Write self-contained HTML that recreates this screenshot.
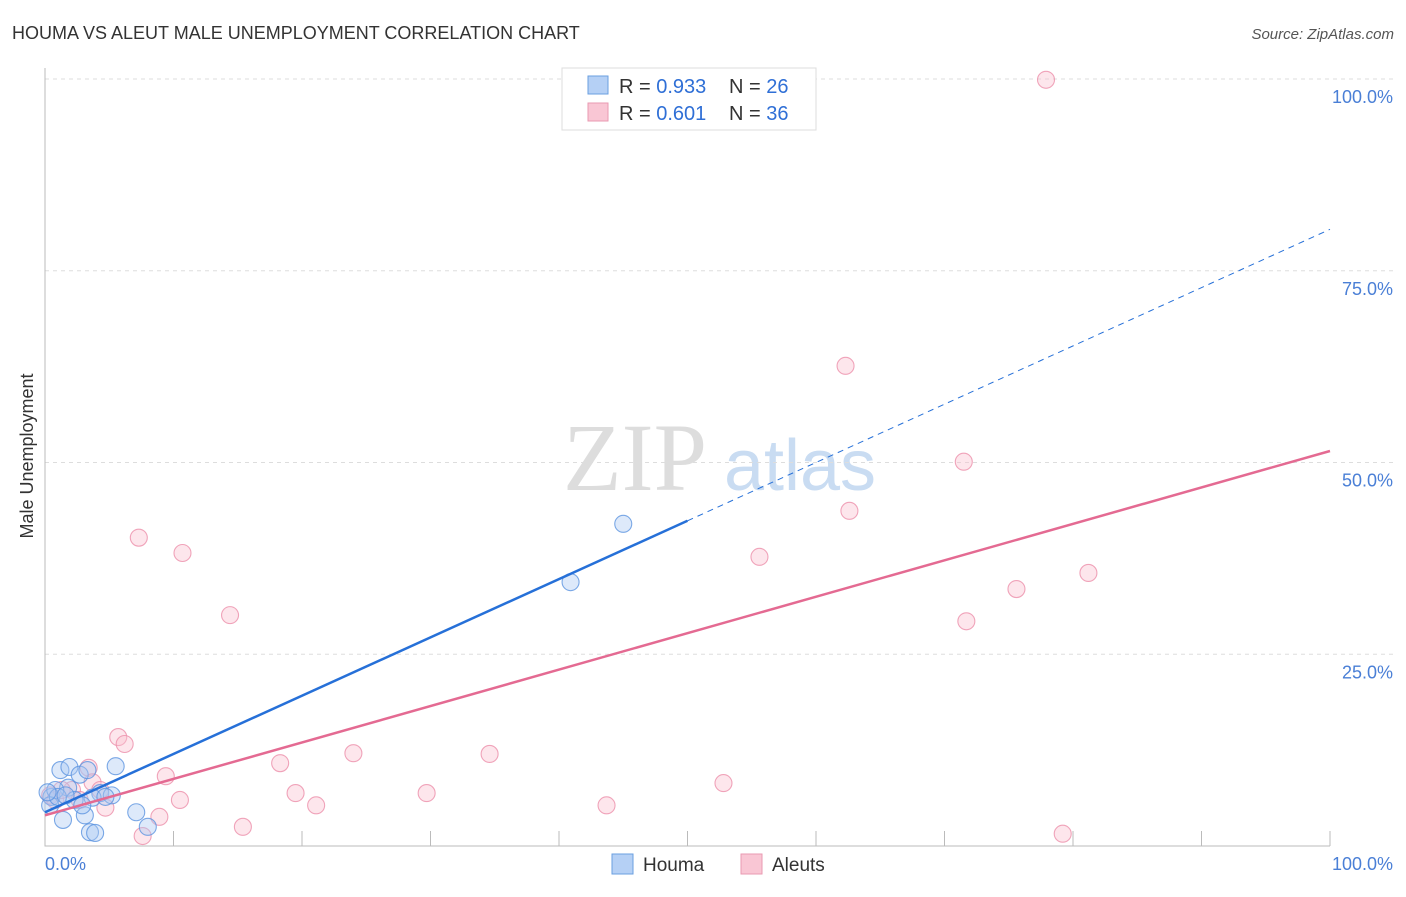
<!DOCTYPE html>
<html><head><meta charset="utf-8"><style>
body{margin:0;background:#fff;font-family:"Liberation Sans",sans-serif}
</style></head><body>
<svg width="1406" height="892" xmlns="http://www.w3.org/2000/svg" font-family="Liberation Sans, sans-serif">
<text x="12" y="39" font-size="18" fill="#333">HOUMA VS ALEUT MALE UNEMPLOYMENT CORRELATION CHART</text>
<text x="1394" y="39" font-size="15" fill="#555" font-style="italic" text-anchor="end">Source: ZipAtlas.com</text>
<text x="0" y="0" transform="translate(33,456) rotate(-90)" font-size="18" fill="#333" text-anchor="middle">Male Unemployment</text>
<g><text x="635" y="490" font-size="96" font-family="Liberation Serif, serif" fill="#ddd" text-anchor="middle">ZIP</text><text x="800" y="490" font-size="72" fill="#c9dcf2" text-anchor="middle">atlas</text></g>
<g id="grid"></g><g id="axes"></g><g id="marks"></g>
<g>
<rect x="562" y="68" width="254" height="62" fill="#fff" stroke="#ddd"/>
<rect x="588" y="76" width="20" height="18" fill="#b5d0f5" stroke="#6a9fe0"/>
<rect x="588" y="103" width="20" height="18" fill="#f9c6d4" stroke="#e99ab2"/>
<text x="619" y="93" font-size="20" fill="#333">R = <tspan fill="#2f6fd6">0.933</tspan></text>
<text x="729" y="93" font-size="20" fill="#333">N = <tspan fill="#2f6fd6">26</tspan></text>
<text x="619" y="120" font-size="20" fill="#333">R = <tspan fill="#2f6fd6">0.601</tspan></text>
<text x="729" y="120" font-size="20" fill="#333">N = <tspan fill="#2f6fd6">36</tspan></text>
</g>
<g>
<rect x="612" y="854" width="21" height="20" fill="#b5d0f5" stroke="#6a9fe0"/>
<text x="643" y="871" font-size="19" fill="#333">Houma</text>
<rect x="741" y="854" width="21" height="20" fill="#f9c6d4" stroke="#e99ab2"/>
<text x="772" y="871" font-size="19" fill="#333">Aleuts</text>
</g>
<text x="45" y="870" font-size="18" fill="#4a7fd6">0.0%</text>
<text x="1393" y="870" font-size="18" fill="#4a7fd6" text-anchor="end">100.0%</text>
</svg>
<script>
const houmaX=[0.5,1.2,1.9,2.7,3.3,1.8,0.8,0.4,1.4,3.1,3.5,3.9,4.3,5.2,5.5,7.1,8.0,3.7,2.3,1.0,45.0,40.9,0.2,4.7,2.9,1.6];
const houmaY=[6.4,9.9,10.3,9.3,9.9,7.6,7.3,5.3,3.4,4.0,1.8,1.7,6.9,6.6,10.4,4.4,2.5,6.3,6.0,6.4,42.0,34.4,7.0,6.4,5.3,6.6];
const aleutX=[77.9,62.3,71.5,62.6,55.6,81.2,75.6,71.7,7.3,10.7,14.4,5.7,6.2,3.4,9.4,18.3,24.0,34.6,52.8,19.5,21.1,29.7,43.7,79.2,15.4,10.5,8.9,7.6,4.7,3.7,2.1,0.4,0.8,1.3,2.7,4.3];
const aleutY=[99.9,62.6,50.1,43.7,37.7,35.6,33.5,29.3,40.2,38.2,30.1,14.2,13.3,10.2,9.1,10.8,12.1,12.0,8.2,6.9,5.3,6.9,5.3,1.6,2.5,6.0,3.8,1.3,5.0,8.3,7.3,6.6,6.0,7.3,6.0,7.3];
const yTicks=[25,50,75,100];
const yTickLabels=["25.0%","50.0%","75.0%","100.0%"];
const houmaTrend=[4.4,0.76];
const aleutTrend=[4.0,0.475];
const NS="http://www.w3.org/2000/svg";
const sx=v=>45+v*12.85, sy=v=>846-v*7.67;
function mk(p,t,a){const e=document.createElementNS(NS,t);for(const k in a)e.setAttribute(k,a[k]);document.getElementById(p).appendChild(e);return e;}
yTicks.forEach((t,i)=>{
 const g=mk('grid','line',{x1:45,x2:1395,y1:sy(t),y2:sy(t),stroke:'#ddd','stroke-dasharray':'4,4'});
 
 
 const l=mk('grid','text',{x:1393,y:sy(t)+24,'font-size':18,fill:'#4a7fd6','text-anchor':'end'});
 l.textContent=yTickLabels[i];
 
 
});
const ax=mk('axes','path',{d:'M45 68V846H1330',fill:'none',stroke:'#bbb'});


for(let i=1;i<=10;i++){const t=mk('axes','line',{x1:sx(i*10),x2:sx(i*10),y1:846,y2:831,stroke:'#bbb'});
 
 }
function pts(X,Y,f,s,n){X.forEach((x,i)=>{const c=mk('marks','circle',{cx:sx(x),cy:sy(Y[i]),r:8.5,fill:f,'fill-opacity':0.4,stroke:s,'stroke-width':1.1,'stroke-opacity':0.8});
 
 });}
pts(aleutX,aleutY,'#f9c0d0','#ec8eaa','aleut-point');
pts(houmaX,houmaY,'#a9c8f2','#5b93e0','houma-point');
const hx=Math.max(...houmaX);
let l1=mk('marks','line',{x1:sx(0),y1:sy(houmaTrend[0]),x2:sx(hx+5),y2:sy(houmaTrend[0]+houmaTrend[1]*(hx+5)),stroke:'#2670d8','stroke-width':2.5});


let l2=mk('marks','line',{x1:sx(hx+5),y1:sy(houmaTrend[0]+houmaTrend[1]*(hx+5)),x2:sx(100),y2:sy(houmaTrend[0]+houmaTrend[1]*100),stroke:'#2670d8','stroke-width':1,'stroke-dasharray':'6,5'});


let l3=mk('marks','line',{x1:sx(0),y1:sy(aleutTrend[0]),x2:sx(100),y2:sy(aleutTrend[0]+aleutTrend[1]*100),stroke:'#e46a92','stroke-width':2.5});


</script>
</body></html>
